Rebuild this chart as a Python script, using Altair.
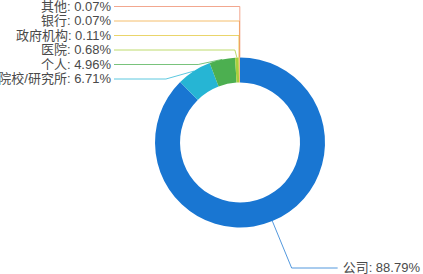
import altair as alt
import numpy as np
import pandas as pd

# ---- data ----
categories = ["公司", "院校/研究所", "个人", "医院", "政府机构", "银行", "其他"]
values = [88.79, 6.71, 4.96, 0.68, 0.11, 0.07, 0.07]
colors = ["#1976d2", "#26b5d4", "#4caf50", "#a8cf3c", "#e3c73a", "#f2a93b", "#ee8a6a"]

# ---- layout ----
W, H = 423, 274
CX, CY = 240, 142.5
R_OUT, R_IN = 85, 60
label_y = [268, 79, 64.5, 50, 35.5, 21, 6.5]
elbow_dx = [0, -28, -24, -2, 0, 0, 0]
LEFT_X = 111
RIGHT_SEG = 46

vals = np.array(values, dtype=float)
cum = np.cumsum(vals)
mid = (cum - vals / 2) / vals.sum() * 2 * np.pi
ax = CX + R_OUT * np.sin(mid)
ay = CY - R_OUT * np.cos(mid)

line_rows, text_rows = [], []
for i, cat in enumerate(categories):
    ly = label_y[i]
    label = f"{cat}: {values[i]:.2f}%"
    if np.sin(mid[i]) > 0:  # right side
        t = (ly - ay[i]) / (-np.cos(mid[i]))
        ex = ax[i] + t * np.sin(mid[i])
        pts = [(ax[i], ay[i]), (ex, ly), (ex + RIGHT_SEG, ly)]
        text_rows.append(dict(cat=cat, label=label, x=ex + RIGHT_SEG + 5, y=ly, side="right"))
    else:
        ex = ax[i] + elbow_dx[i]
        pts = [(LEFT_X + 3, ly), (ex, ly), (ax[i], ay[i])]
        text_rows.append(dict(cat=cat, label=label, x=LEFT_X, y=ly, side="left"))
    for k, (px, py) in enumerate(pts):
        line_rows.append(dict(cat=cat, k=k, x=px, y=py))

pie_df = pd.DataFrame({"cat": categories, "value": values, "idx": range(len(categories))})
line_df = pd.DataFrame(line_rows)
text_df = pd.DataFrame(text_rows)

color_scale = alt.Scale(domain=categories, range=colors)
xs = alt.Scale(domain=[0, W], range=[0, W], nice=False, zero=False)
ys = alt.Scale(domain=[0, H], range=[0, H], nice=False, zero=False)

pie = alt.Chart(pie_df).mark_arc(radius=R_OUT, innerRadius=R_IN).encode(
    theta=alt.Theta("value:Q", stack=True),
    order=alt.Order("idx:Q"),
    color=alt.Color("cat:N", scale=color_scale, legend=None),
    x=alt.value(CX),
    y=alt.value(CY),
)

lines = alt.Chart(line_df).mark_line(strokeWidth=1, opacity=0.75).encode(
    x=alt.X("x:Q", scale=xs, axis=None),
    y=alt.Y("y:Q", scale=ys, axis=None),
    color=alt.Color("cat:N", scale=color_scale, legend=None),
    detail="cat:N",
    order=alt.Order("k:Q"),
)

font = "Liberation Sans, 'Noto Sans CJK SC', sans-serif"
left_text = alt.Chart(text_df[text_df.side == "left"]).mark_text(
    align="right", baseline="middle", fontSize=13, color="#4a4a4a", font=font
).encode(
    x=alt.X("x:Q", scale=xs, axis=None),
    y=alt.Y("y:Q", scale=ys, axis=None),
    text="label:N",
)
right_text = alt.Chart(text_df[text_df.side == "right"]).mark_text(
    align="left", baseline="middle", fontSize=13, color="#4a4a4a", font=font
).encode(
    x=alt.X("x:Q", scale=xs, axis=None),
    y=alt.Y("y:Q", scale=ys, axis=None),
    text="label:N",
)

chart = alt.layer(pie, lines, left_text, right_text).properties(
    width=W, height=H, padding=0, autosize=alt.AutoSizeParams(type="none")
).configure_view(strokeWidth=0)

chart.save("out.html", embed_options={"renderer": "svg", "actions": False})
